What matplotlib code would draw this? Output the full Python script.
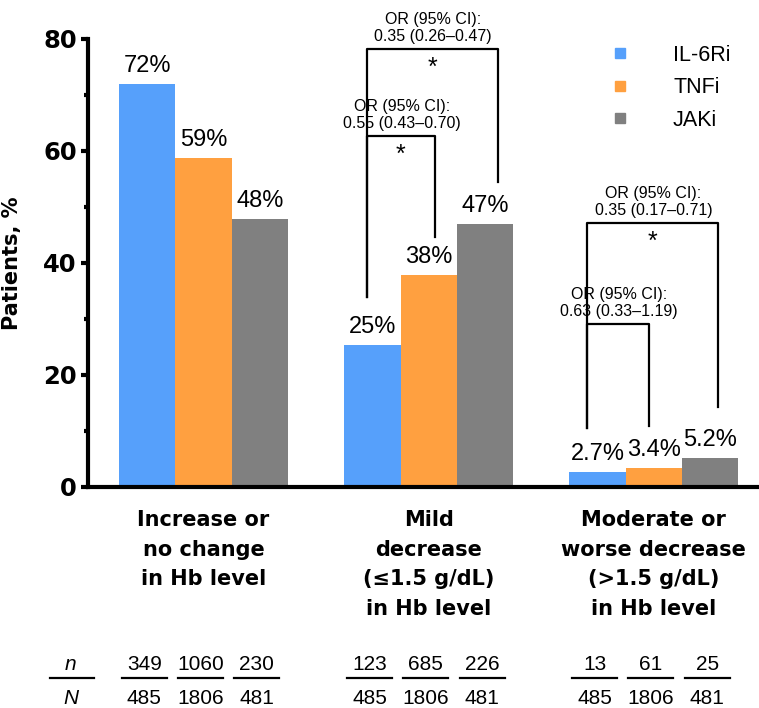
import numpy as np
import matplotlib
matplotlib.use('Agg')
from matplotlib import pyplot as plt
from matplotlib.lines import Line2D
import matplotlib.transforms as mtransforms

plt.rcParams['font.family'] = ['Liberation Sans', 'DejaVu Sans']

categories = ['Increase or\nno change\nin Hb level',
              'Mild\ndecrease\n(≤1.5 g/dL)\nin Hb level',
              'Moderate or\nworse decrease\n(>1.5 g/dL)\nin Hb level']
series = ['IL-6Ri', 'TNFi', 'JAKi']
colors = ['#56A0FB', '#FFA040', '#808080']

il6 = [72.0, 25.4, 2.7]
tnf = [58.7, 37.9, 3.4]
jak = [47.8, 47.0, 5.2]
il6_lbl = ['72%', '25%', '2.7%']
tnf_lbl = ['59%', '38%', '3.4%']
jak_lbl = ['48%', '47%', '5.2%']

n_il6 = [349, 123, 13]
n_tnf = [1060, 685, 61]
n_jak = [230, 226, 25]
N_il6 = [485, 485, 485]
N_tnf = [1806, 1806, 1806]
N_jak = [481, 481, 481]

# bracket annotations: group, left/right offset, top, left foot, right foot, text, star
brackets = [
    (1, -0.276, 0.307, 78.2, 33.9, 54.5, 'OR (95% CI):\n0.35 (0.26–0.47)', True),
    (1, -0.276, 0.027, 62.7, 33.9, 44.6, 'OR (95% CI):\n0.55 (0.43–0.70)', True),
    (2, -0.298, 0.284, 47.1, 10.5, 14.3, 'OR (95% CI):\n0.35 (0.17–0.71)', True),
    (2, -0.298, -0.022, 29.1, 10.5, 10.9, 'OR (95% CI):\n0.63 (0.33–1.19)', False),
]

fig = plt.figure(figsize=(7.59, 7.08), dpi=100)
ax = fig.add_axes([88 / 759, 1 - 487 / 708, 669 / 759, 448 / 708])

x = np.arange(len(categories))
w = 0.25
vals = [il6, tnf, jak]
lbls = [il6_lbl, tnf_lbl, jak_lbl]
for i in range(3):
    xs = x + (i - 1) * w
    ax.bar(xs, vals[i], w, color=colors[i], label=series[i], zorder=2)
    for xi, v, t in zip(xs, vals[i], lbls[i]):
        ax.annotate(t, (xi, v), xytext=(0, 5), textcoords='offset points',
                    ha='center', va='bottom', fontsize=17)

ax.set_xlim(-0.513, 2.458)
ax.set_ylim(0, 80)
ax.set_yticks([0, 20, 40, 60, 80])
ax.set_yticks([10, 30, 50, 70], minor=True)
ax.set_xticks([])
for s in ['top', 'right']:
    ax.spines[s].set_visible(False)
for s in ['left', 'bottom']:
    ax.spines[s].set_linewidth(3)
ax.tick_params(axis='y', which='major', width=3, length=5, pad=3, labelsize=17.5)
ax.tick_params(axis='y', which='minor', width=3, length=3)
for lab in ax.get_yticklabels():
    lab.set_family('DejaVu Sans')
    lab.set_fontweight('bold')
ax.set_ylabel('Patients, %', fontsize=15, fontweight='bold', family='DejaVu Sans')
ax.yaxis.set_label_coords(-0.099, 0.5)

# brackets
for g, lo, ro, top, lf, rf, txt, star in brackets:
    xl, xr = g + lo, g + ro
    ax.plot([xl, xl, xr, xr], [lf, top, top, rf], color='black', lw=1.6,
            clip_on=False, zorder=3)
    ax.annotate(txt, ((xl + xr) / 2 + 0.005, top), xytext=(0, 3.5),
                textcoords='offset points', ha='center', va='bottom',
                fontsize=11.5, linespacing=1.2, annotation_clip=False)
    if star:
        ax.annotate('*', ((xl + xr) / 2, top), xytext=(0, -5),
                    textcoords='offset points', ha='center', va='top',
                    fontsize=18, annotation_clip=False)

# category labels
trans = mtransforms.blended_transform_factory(ax.transData, ax.transAxes)
for xi, c in zip(x, categories):
    ax.text(xi, -0.052, c, transform=trans, ha='center', va='top',
            fontsize=15, fontweight='bold', family='DejaVu Sans', linespacing=1.6)

# n / N table
y_n, y_line, y_N = -0.397, -0.426, -0.471
ax.text(-0.589, y_n, 'n', transform=trans, ha='center', va='center',
        fontsize=15, style='italic')
ax.text(-0.589, y_N, 'N', transform=trans, ha='center', va='center',
        fontsize=15, style='italic')
ax.plot([-0.683, -0.487], [y_line, y_line], transform=trans, color='black',
        lw=1.6, clip_on=False)
nums = [n_il6, n_tnf, n_jak]
dens = [N_il6, N_tnf, N_jak]
for i in range(3):
    for g in range(3):
        cx = g + (i - 1) * w - 0.013
        ax.text(cx, y_n, str(nums[i][g]), transform=trans, ha='center',
                va='center', fontsize=15)
        ax.text(cx, y_N, str(dens[i][g]), transform=trans, ha='center',
                va='center', fontsize=15)
        ax.plot([cx - 0.1, cx + 0.1], [y_line, y_line], transform=trans,
                color='black', lw=1.6, clip_on=False)

handles = [Line2D([], [], marker='s', ls='', color=c, markersize=7) for c in colors]
ax.legend(handles, series, loc='upper left', bbox_to_anchor=(609.6 / 759, 1 - 45 / 708),
          bbox_transform=fig.transFigure, frameon=False, fontsize=15.5,
          handlelength=1.0, handletextpad=1.95, labelspacing=0.53,
          borderpad=0, borderaxespad=0)

fig.savefig('out.png', dpi=100)
